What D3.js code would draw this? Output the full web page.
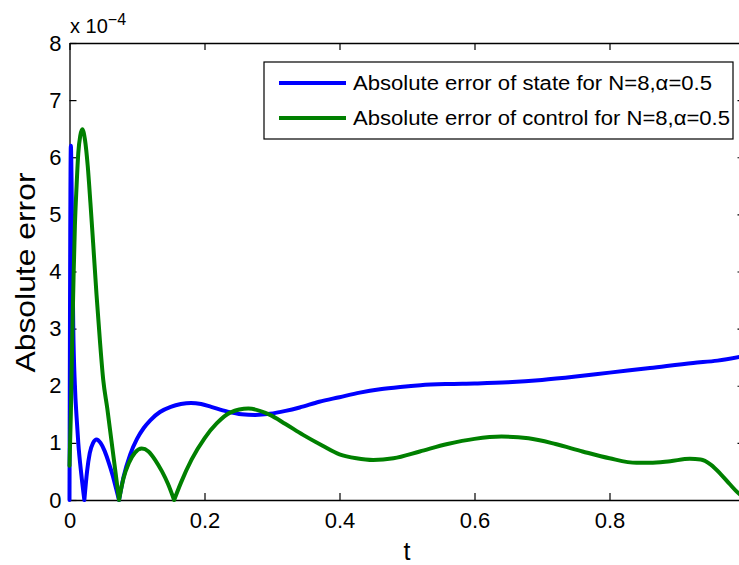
<!DOCTYPE html>
<html>
<head>
<meta charset="utf-8">
<script src="https://cdn.jsdelivr.net/npm/d3@7"></script>
<style>
  body { margin: 0; background: #fff; }
  svg { display: block; font-family: "Liberation Sans", Arial, sans-serif; }
</style>
</head>
<body>
<svg width="739" height="565"></svg>
<script>
// values are in units of 1e-4
const tState = [0, 0.002, 0.004, 0.0056, 0.008, 0.0105, 0.013, 0.0175, 0.022,
  0.026, 0.030, 0.035, 0.040, 0.046, 0.052, 0.058, 0.064, 0.069, 0.0734,
  0.08, 0.09, 0.10, 0.11, 0.12, 0.134, 0.15, 0.165, 0.18, 0.195, 0.21, 0.233, 0.255, 0.275,
  0.297, 0.32, 0.341, 0.37, 0.40, 0.43, 0.46, 0.49, 0.52, 0.56, 0.60, 0.65, 0.70,
  0.75, 0.80, 0.86, 0.924, 0.96, 1.0];
const stateErr = [0, 6.2, 4.6, 3.0, 2.0, 1.45, 1.0, 0.45, 0,
  0.5, 0.82, 1.0, 1.06, 1.0, 0.86, 0.66, 0.43, 0.2, 0,
  0.4, 0.8, 1.07, 1.26, 1.4, 1.54, 1.63, 1.68, 1.70, 1.68, 1.63, 1.55, 1.5, 1.49,
  1.51, 1.56, 1.62, 1.72, 1.8, 1.88, 1.94, 1.98, 2.01, 2.03, 2.04, 2.06, 2.1,
  2.16, 2.23, 2.31, 2.4, 2.44, 2.52];

const tControl = [0, 0.002, 0.004, 0.006, 0.008, 0.0105, 0.013, 0.016, 0.019,
  0.023, 0.027, 0.031, 0.035, 0.040, 0.045, 0.050, 0.056, 0.062, 0.068, 0.0734,
  0.08, 0.088, 0.097, 0.107, 0.117, 0.127, 0.137, 0.146, 0.155,
  0.165, 0.181, 0.20, 0.218, 0.238, 0.265, 0.297, 0.32, 0.346, 0.375, 0.40, 0.425,
  0.45, 0.48, 0.519, 0.56, 0.60, 0.64, 0.68, 0.72, 0.76, 0.80, 0.84, 0.86, 0.89,
  0.919, 0.935, 0.95, 0.965, 0.978, 0.99, 1.0];
const controlErr = [0.6, 1.5, 2.8, 3.9, 4.8, 5.5, 6.07, 6.38, 6.49,
  6.3, 5.85, 5.2, 4.5, 3.6, 2.8, 2.1, 1.6, 1.05, 0.5, 0,
  0.38, 0.65, 0.83, 0.9, 0.85, 0.7, 0.5, 0.28, 0,
  0.3, 0.71, 1.08, 1.34, 1.53, 1.6, 1.49, 1.33, 1.14, 0.95, 0.8, 0.73,
  0.7, 0.73, 0.85, 0.98, 1.07, 1.11, 1.08, 0.98, 0.85, 0.73, 0.65, 0.65, 0.68,
  0.72, 0.71, 0.62, 0.45, 0.28, 0.13, 0.04];

const xTicks = [0, 0.2, 0.4, 0.6, 0.8];
const yTicks = [0, 1, 2, 3, 4, 5, 6, 7, 8];
const legendLabels = ["Absolute error of state for N=8,\u03b1=0.5",
                      "Absolute error of control for N=8,\u03b1=0.5"];
const seriesColors = ["#0000ff", "#008000"];

const svg = d3.select("svg");
const plotLeft = 69.5, plotRight = 744.5, plotTop = 43, plotBottom = 500;

const x = d3.scaleLinear().domain([0, 1]).range([plotLeft, plotRight]);
const y = d3.scaleLinear().domain([0, 8]).range([plotBottom, plotTop]);

// axes (ticks point inward, like matlab)
const fmtX = d => d === 0 ? "0" : d3.format(".1f")(d);

svg.append("g")
    .attr("transform", `translate(0,${plotBottom})`)
    .call(d3.axisBottom(x).tickValues(xTicks).tickFormat(fmtX).tickSize(-7).tickSizeOuter(0).tickPadding(12));
svg.append("g")
    .attr("transform", `translate(0,${plotTop})`)
    .call(d3.axisTop(x).tickValues(xTicks).tickFormat("").tickSize(-7).tickSizeOuter(0));
svg.append("g")
    .attr("transform", `translate(${plotLeft},0)`)
    .call(d3.axisLeft(y).tickValues(yTicks).tickSize(-7).tickSizeOuter(0).tickPadding(8));
svg.append("g")
    .attr("transform", `translate(${plotRight},0)`)
    .call(d3.axisRight(y).tickValues(yTicks).tickFormat("").tickSize(-7).tickSizeOuter(0));

svg.selectAll(".domain").attr("stroke", "#000").attr("stroke-width", 1.3);
svg.selectAll(".tick line").attr("stroke", "#000").attr("stroke-width", 1.2);
svg.selectAll(".tick text")
    .attr("fill", "#000")
    .style("font-family", "'Liberation Sans', Arial, sans-serif")
    .style("font-size", "22px");

// split a series at its zeros so the V shapes stay sharp
function pieces(ts, vs) {
    const segs = [];
    let cur = [[ts[0], vs[0]]];
    for (let i = 1; i < ts.length; i++) {
        cur.push([ts[i], vs[i]]);
        if (vs[i] === 0 && i < ts.length - 1) {
            segs.push(cur);
            cur = [[ts[i], vs[i]]];
        }
    }
    segs.push(cur);
    return segs;
}

const line = d3.line()
    .x(d => x(d[0]))
    .y(d => y(d[1]))
    .curve(d3.curveMonotoneX);

const series = [[tState, stateErr], [tControl, controlErr]];
series.forEach((s, i) => {
    svg.append("path")
        .attr("d", pieces(s[0], s[1]).map(p => line(p)).join(""))
        .attr("fill", "none")
        .attr("stroke", seriesColors[i])
        .attr("stroke-width", 4)
        .attr("stroke-linejoin", "round")
        .attr("stroke-linecap", "round");
});

// legend
const lg = svg.append("g");
lg.append("rect")
    .attr("x", 264).attr("y", 62)
    .attr("width", 469).attr("height", 77)
    .attr("fill", "#fff").attr("stroke", "#000").attr("stroke-width", 1.2);

const legendWidths = [359, 377];
legendLabels.forEach((lab, i) => {
    const ly = 83 + i * 35;
    lg.append("line")
        .attr("x1", 279).attr("x2", 346)
        .attr("y1", ly).attr("y2", ly)
        .attr("stroke", seriesColors[i]).attr("stroke-width", 4);
    lg.append("text")
        .attr("x", 353).attr("y", ly + 6.5)
        .attr("textLength", legendWidths[i])
        .attr("lengthAdjust", "spacingAndGlyphs")
        .style("font-size", "20px")
        .text(lab);
});

// exponent label
const ex = svg.append("text").attr("x", 70).attr("y", 33).style("font-size", "20px");
ex.append("tspan").text("x 10");
ex.append("tspan").attr("dy", -8).style("font-size", "16px").text("\u22124");

// axis titles
svg.append("text")
    .attr("x", (plotLeft + plotRight) / 2).attr("y", 560)
    .attr("text-anchor", "middle")
    .style("font-size", "25px")
    .text("t");

svg.append("text")
    .attr("transform", `translate(35,${(plotTop + plotBottom) / 2 + 1}) rotate(-90)`)
    .attr("text-anchor", "middle")
    .attr("textLength", 200)
    .attr("lengthAdjust", "spacingAndGlyphs")
    .style("font-size", "28px")
    .text("Absolute error");
</script>
</body>
</html>
